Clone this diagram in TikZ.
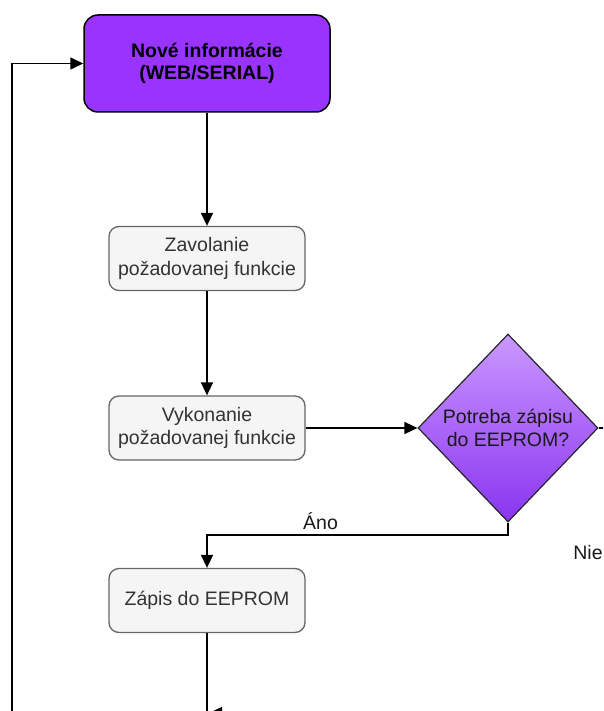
\documentclass[tikz,border=0pt]{standalone}
\usepackage{fontspec}
\setmainfont{Liberation Sans}
\usetikzlibrary{shapes.geometric,arrows.meta}
\definecolor{purp}{RGB}{153,51,255}
\definecolor{diatop}{RGB}{202,152,255}
\definecolor{diabot}{RGB}{138,52,240}
\definecolor{procfill}{RGB}{245,245,245}
\definecolor{procedge}{RGB}{102,102,102}
\definecolor{proctext}{RGB}{51,51,51}
\begin{document}
\begin{tikzpicture}[x=1pt,y=-1pt,
  txt/.style={font=\fontsize{19.5}{23.4}\selectfont},
  proc/.style={txt, draw=procedge, fill=procfill, rounded corners=10pt, line width=1.3pt,
    minimum width=196pt, minimum height=64pt, inner sep=0pt, align=center, text=proctext},
  startbox/.style={txt, font=\fontsize{19.5}{22.5}\selectfont\bfseries, draw=black, fill=purp,
    rounded corners=14pt, line width=1.5pt, minimum width=246pt, minimum height=97pt,
    inner sep=0pt, align=center, text=black},
  decision/.style={txt, shape=diamond, draw=black!85, line width=1.2pt, top color=diatop,
    bottom color=diabot, minimum width=180pt, minimum height=188pt, inner sep=0pt,
    align=center, text=black!90},
  conn/.style={line width=1.6pt, draw=black},
  arr/.style={conn, -{Triangle[length=13pt,width=12pt]}},
  lbl/.style={txt, text=black!90, inner sep=0pt}
]
\useasboundingbox (0,0) rectangle (603,711);
\clip (0,0) rectangle (603,711);

\node[startbox] (top) at (207,63.5) {Nové informácie\\(WEB/SERIAL)};
\node[proc] (z1) at (207,258.5) {Zavolanie\\požadovanej funkcie};
\node[proc] (z2) at (207,428) {Vykonanie\\požadovanej funkcie};
\node[decision] (dia) at (508,428) {Potreba zápisu\\do EEPROM?};
\node[proc] (z3) at (207,600.5) {Zápis do EEPROM};

\node[lbl] (ano) at (320.5,521) {Áno};
\node[lbl] (nie) at (588,553) {Nie};

\coordinate (yesbend) at (508,535);
\coordinate (noend) at (612,428);
\coordinate (z3end) at (207,725);
\coordinate (backin) at (320,713);
\coordinate (backtip) at (209,713);
\coordinate (loopstart) at (12,725);

\draw[arr] (top) -- (z1);
\draw[arr] (z1) -- (z2);
\draw[arr] (z2.east) -- (dia.west);
\draw[arr] (dia.south) -- (yesbend) -| (z3.north);
\draw[conn] (dia.east) -- (noend);
\draw[conn] (z3.south) -- (z3end);
\draw[arr] (backin) -- (backtip);
\draw[arr] (loopstart) |- (top.west);
\end{tikzpicture}
\end{document}
